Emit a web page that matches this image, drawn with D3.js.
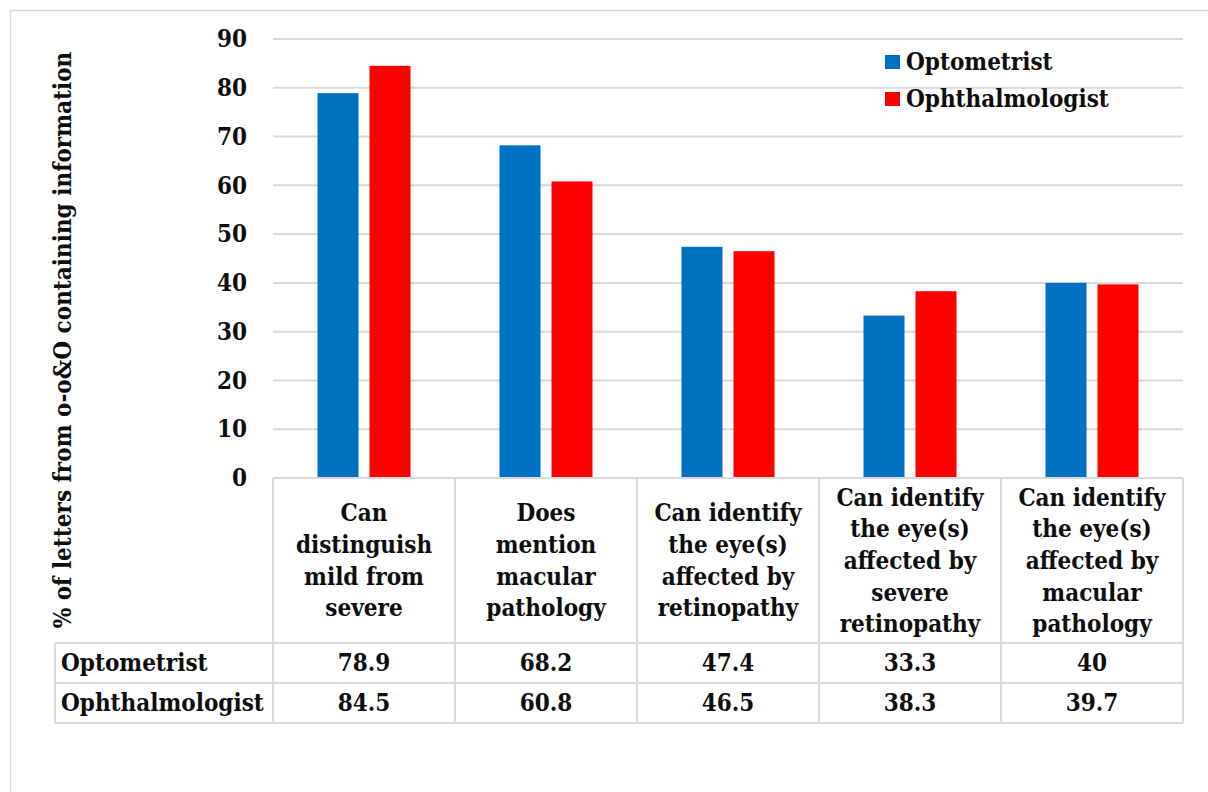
<!DOCTYPE html>
<html>
<head>
<meta charset="utf-8">
<script src="https://cdn.jsdelivr.net/npm/d3@7"></script>
<style>
  html, body { margin: 0; padding: 0; background: #fff; }
  svg text {
    font-family: "DejaVu Serif Condensed", "DejaVu Serif", serif;
    font-stretch: condensed;
    font-weight: bold;
    fill: #0d0d0d;
  }
</style>
</head>
<body>
<svg id="chart" width="1208" height="792"></svg>
<script>
// Category labels, one entry per wrapped line
const categoryLines = [
  ["Can", "distinguish", "mild from", "severe"],
  ["Does", "mention", "macular", "pathology"],
  ["Can identify", "the eye(s)", "affected by", "retinopathy"],
  ["Can identify", "the eye(s)", "affected by", "severe", "retinopathy"],
  ["Can identify", "the eye(s)", "affected by", "macular", "pathology"]
];
const categories = categoryLines.map(l => l.join(" "));

const seriesNames = ["Optometrist", "Ophthalmologist"];
const optometrist = [78.9, 68.2, 47.4, 33.3, 40];
const ophthalmologist = [84.5, 60.8, 46.5, 38.3, 39.7];
const seriesColors = ["#0070c0", "#ff0000"];

const yTicks = [0, 10, 20, 30, 40, 50, 60, 70, 80, 90];
const yTitle = "% of letters from o-o&O containing information";

const seriesValues = [optometrist, ophthalmologist];

const svg = d3.select("#chart");
const W = 1208, H = 792;
const fontSize = 24;

// Chart frame
svg.append("path")
  .attr("d", `M10.5,${H} L10.5,10.5 L${W},10.5`)
  .attr("fill", "none")
  .attr("stroke", "#d9d9d9")
  .attr("stroke-width", 1.5);

// Scales
const plotLeft = 273, plotRight = 1183;
const x = d3.scaleBand().domain(categories).range([plotLeft, plotRight]).padding(0);
const y = d3.scaleLinear().domain([0, 90]).range([478, 39]);
const bw = x.bandwidth();
const x1 = d3.scaleBand().domain(seriesNames)
  .range([bw * 0.2445, bw * (1 - 0.2445)])
  .paddingInner(0.212).paddingOuter(0);

// Gridlines
svg.append("g").selectAll("line")
  .data(yTicks.filter(t => t > 0))
  .join("line")
  .attr("x1", plotLeft).attr("x2", plotRight)
  .attr("y1", d => y(d)).attr("y2", d => y(d))
  .attr("stroke", "#d9d9d9")
  .attr("stroke-width", 2);

// Y axis labels
const yAxis = svg.append("g")
  .attr("transform", `translate(${plotLeft},0)`)
  .call(d3.axisLeft(y).tickValues(yTicks).tickSize(0).tickPadding(26).tickFormat(d3.format("d")));
yAxis.select(".domain").remove();
yAxis.selectAll("text")
  .style("font-size", fontSize + "px")
  .attr("fill", "#0d0d0d");

// Y axis title
svg.append("text")
  .attr("transform", "translate(62,340) rotate(-90)")
  .attr("text-anchor", "middle")
  .attr("dominant-baseline", "central")
  .style("font-size", fontSize + "px")
  .text(yTitle);

// Bars
const groups = svg.append("g").selectAll("g")
  .data(categories)
  .join("g")
  .attr("transform", d => `translate(${x(d)},0)`);

groups.selectAll("rect")
  .data((d, i) => seriesNames.map((s, k) => ({ s, v: seriesValues[k][i], c: seriesColors[k] })))
  .join("rect")
  .attr("x", d => x1(d.s))
  .attr("width", x1.bandwidth())
  .attr("y", d => y(d.v))
  .attr("height", d => y(0) - y(d.v))
  .attr("fill", d => d.c);

// Data table
const headTop = y(0), headBottom = 643, rowH = 40;
const keyLeft = 55;
const gridColor = "#d9d9d9";
const tbl = svg.append("g").attr("stroke", gridColor).attr("stroke-width", 2);
tbl.append("line").attr("x1", plotLeft).attr("x2", plotRight).attr("y1", headTop).attr("y2", headTop);
[0, 1, 2].forEach(r => {
  const yy = headBottom + r * rowH;
  tbl.append("line").attr("x1", keyLeft).attr("x2", plotRight).attr("y1", yy).attr("y2", yy);
});
const colEdges = categories.map(c => x(c)).concat([plotRight]);
tbl.selectAll("line.v").data(colEdges).join("line")
  .attr("class", "v")
  .attr("x1", d => d).attr("x2", d => d)
  .attr("y1", headTop).attr("y2", headBottom + 2 * rowH);
tbl.append("line").attr("x1", keyLeft).attr("x2", keyLeft)
  .attr("y1", headBottom).attr("y2", headBottom + 2 * rowH);

// Header cells: wrapped category names
const lineH = 31.7;
const headMid = (headTop + headBottom) / 2;
categoryLines.forEach((lines, i) => {
  const cx = x(categories[i]) + bw / 2;
  const t = svg.append("text")
    .attr("text-anchor", "middle")
    .style("font-size", fontSize + "px");
  lines.forEach((ln, j) => {
    t.append("tspan")
      .attr("x", cx)
      .attr("y", headMid + (j - (lines.length - 1) / 2) * lineH)
      .attr("dy", "0.35em")
      .text(ln);
  });
});

// Value rows
seriesNames.forEach((s, k) => {
  const cy = headBottom + k * rowH + rowH / 2;
  svg.append("text")
    .attr("x", keyLeft + 6).attr("y", cy).attr("dy", "0.35em")
    .style("font-size", fontSize + "px")
    .text(s);
  svg.append("g").selectAll("text")
    .data(categories)
    .join("text")
    .attr("x", d => x(d) + bw / 2).attr("y", cy).attr("dy", "0.35em")
    .attr("text-anchor", "middle")
    .style("font-size", fontSize + "px")
    .text((d, i) => seriesValues[k][i]);
});

// Legend
const legend = svg.append("g").attr("transform", "translate(885,0)");
seriesNames.forEach((s, k) => {
  const cy = 62 + k * 37;
  legend.append("rect")
    .attr("x", 0).attr("y", cy - 7).attr("width", 15).attr("height", 14)
    .attr("fill", seriesColors[k]);
  legend.append("text")
    .attr("x", 21).attr("y", cy).attr("dy", "0.35em")
    .style("font-size", fontSize + "px")
    .text(s);
});
</script>
</body>
</html>
